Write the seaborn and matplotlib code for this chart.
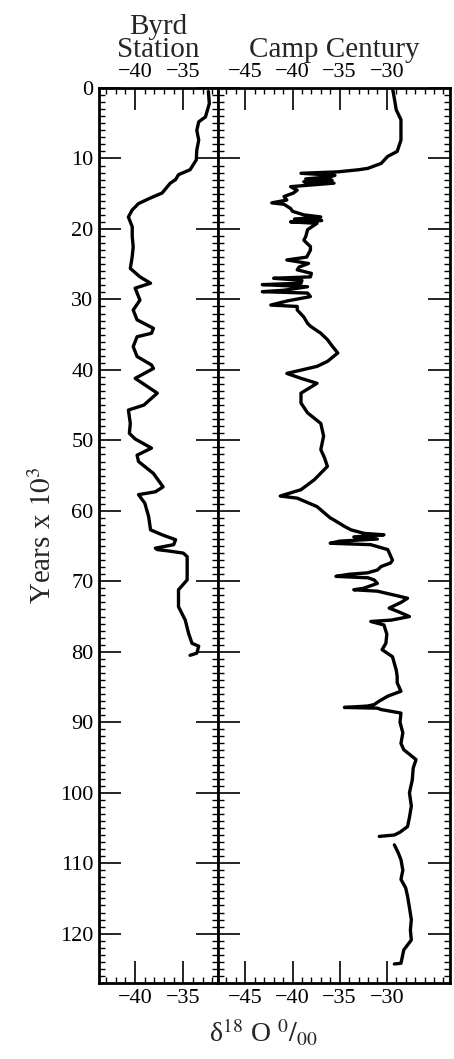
import pandas as pd
import seaborn as sns
import matplotlib.pyplot as plt
from matplotlib.ticker import MultipleLocator

# Byrd Station core: age (kyr) and delta-18O (per mil)
byrd_age = [0.5, 2.2, 4.1, 4.8, 6.0, 7.4, 8.8, 10.2, 11.6, 12.3, 13.0, 13.5, 14.9, 15.6,
            16.4, 17.3, 18.3, 19.7, 21.1, 22.5, 23.9, 25.6, 26.8, 27.7, 28.4, 30.1, 31.5,
            32.9, 34.1, 34.8, 35.3, 36.7, 38.1, 39.3, 39.8, 41.2, 43.3, 45.0, 45.7, 47.6,
            49.0, 49.8, 51.1, 52.1, 53.0, 54.7, 56.6, 57.3, 57.7, 58.9, 60.8, 62.7, 63.4,
            64.1, 64.8, 65.3, 65.5, 65.7, 66.0, 66.5, 69.8, 71.2, 73.6, 75.5, 77.4, 78.8,
            79.2, 80.2, 80.5]
byrd_d18o = [-32.4, -32.3, -32.7, -33.4, -33.6, -33.4, -33.6, -33.65, -34.3, -35.5, -35.8,
             -36.35, -37.2, -38.4, -39.65, -40.3, -40.7, -40.3, -40.3, -40.2, -40.3, -40.5,
             -39.5, -38.4, -40.0, -39.5, -40.2, -39.8, -38.1, -38.3, -39.8, -40.2, -39.8,
             -38.3, -38.1, -40.0, -37.7, -39.1, -40.7, -40.5, -40.6, -40.0, -38.3, -39.8,
             -39.65, -38.1, -37.1, -37.9, -39.65, -39.0, -38.6, -38.4, -37.2, -35.8, -36.0,
             -37.9, -37.7, -36.5, -35.0, -34.6, -34.6, -35.5, -35.5, -34.8, -34.45, -34.1,
             -33.4, -33.6, -34.3]

# Camp Century core, upper part (down to the break near 106 kyr)
camp_age = [0.0, 1.5, 3.1, 4.5, 6.0, 7.4, 9.0, 9.7, 10.7, 11.4, 11.6, 11.9, 12.1, 12.4,
            12.6, 12.9, 13.1, 13.3, 13.5, 14.0, 14.5, 14.9, 15.4, 15.9, 16.3, 16.5, 17.1,
            17.5, 18.0, 18.3, 18.6, 18.8, 19.0, 19.2, 20.1, 21.1, 21.6, 22.5, 23.0, 24.0,
            24.4, 24.9, 25.4, 25.8, 26.3, 26.8, 27.0, 27.3, 27.7, 27.9, 28.2, 28.7, 28.9,
            29.1, 29.6, 30.2, 30.8, 31.0, 31.5, 32.5, 33.4, 33.8, 34.8, 35.7, 36.6, 37.6,
            38.8, 39.5, 40.0, 40.5, 41.2, 41.9, 43.3, 44.7, 46.1, 47.6, 49.4, 51.3, 52.5,
            53.7, 55.6, 57.0, 57.9, 58.2, 59.4, 61.0, 61.3, 62.2, 62.7, 63.2, 63.4, 63.7,
            64.0, 64.3, 64.6, 64.8, 65.5, 67.0, 67.4, 67.9, 68.4, 68.8, 69.0, 69.3, 69.5,
            69.8, 70.3, 71.0, 71.2, 71.4, 72.4, 73.0, 73.8, 74.3, 75.0, 75.5, 75.7, 76.2,
            77.5, 78.8, 79.7, 80.7, 82.6, 83.5, 84.4, 85.6, 86.3, 87.0, 87.5, 87.7, 87.9,
            88.0, 88.2, 88.7, 90.0, 91.5, 93.0, 93.9, 95.3, 96.5, 98.2, 100.0, 101.9, 103.5,
            104.8, 105.6, 106.0, 106.2]
camp_d18o = [-29.4, -29.2, -29.0, -28.5, -28.5, -28.5, -28.9, -29.9, -30.6, -32.0, -33.0,
             -35.2, -39.1, -35.5, -36.0, -38.6, -35.8, -38.8, -35.6, -40.2, -39.5, -39.9,
             -40.9, -40.6, -42.2, -40.9, -40.2, -40.0, -38.8, -37.0, -39.8, -36.9, -40.2,
             -37.4, -38.4, -38.6, -38.8, -38.1, -38.1, -38.5, -40.6, -38.3, -39.3, -39.5,
             -38.0, -38.1, -42.0, -39.0, -39.1, -43.2, -38.4, -40.9, -43.2, -38.4, -38.1,
             -40.5, -42.3, -39.5, -39.5, -38.8, -38.4, -38.1, -37.0, -36.3, -35.8, -35.2,
             -36.3, -37.4, -39.0, -40.6, -39.1, -37.4, -39.1, -39.1, -38.4, -37.0, -36.7,
             -37.0, -36.6, -36.3, -37.7, -39.1, -41.3, -39.5, -37.4, -36.0, -35.6, -34.5,
             -33.8, -32.4, -30.3, -33.5, -31.0, -35.0, -36.0, -31.7, -29.9, -29.4, -29.6,
             -30.6, -31.0, -32.05, -34.0, -35.4, -32.0, -31.35, -31.0, -32.5, -33.5, -31.0,
             -27.8, -28.5, -29.75, -28.8, -27.6, -29.5, -31.7, -30.3, -30.0, -30.1, -30.5,
             -29.4, -29.0, -28.9, -28.9, -28.5, -29.9, -30.8, -31.35, -32.05, -34.5, -31.0,
             -30.6, -28.5, -28.6, -28.3, -28.5, -28.2, -26.9, -27.2, -27.3, -27.6, -27.4,
             -27.6, -27.8, -28.6, -29.2, -30.8]

# Camp Century, lower part after the break
camp_age_low = [107.4, 108.5, 109.5, 111.0, 112.3, 113.5, 114.7, 116.3, 118.0, 119.5,
                120.9, 122.3, 124.2, 124.3]
camp_d18o_low = [-29.2, -28.8, -28.5, -28.3, -28.5, -28.0, -27.8, -27.6, -27.4, -27.5,
                 -27.4, -28.2, -28.5, -29.2]

byrd_ticks = [-40, -35]
camp_ticks = [-45, -40, -35, -30]

sns.set_theme(style='ticks')
plt.rcParams['font.family'] = ['Liberation Serif', 'DejaVu Serif']
plt.rcParams['mathtext.fontset'] = 'stix'

fig = plt.figure(figsize=(4.54, 10.59), dpi=100)
ax1 = fig.add_axes([99 / 454, 76 / 1059, 119 / 454, 895 / 1059])
ax2 = fig.add_axes([218 / 454, 76 / 1059, 232 / 454, 895 / 1059], sharey=ax1)

sns.lineplot(x=byrd_d18o, y=byrd_age, sort=False, estimator=None,
             color='black', lw=2.4, ax=ax1)
sns.lineplot(x=camp_d18o, y=camp_age, sort=False, estimator=None,
             color='black', lw=2.4, ax=ax2)
sns.lineplot(x=camp_d18o_low, y=camp_age_low, sort=False, estimator=None,
             color='black', lw=2.4, ax=ax2)

ax1.set_xlim(-43.75, -31.4)
ax2.set_xlim(-47.9, -23.3)
ax1.set_ylim(127, 0)
ax1.set_xticks(byrd_ticks)
ax2.set_xticks(camp_ticks)

for ax in (ax1, ax2):
    ax.yaxis.set_major_locator(MultipleLocator(10))
    ax.yaxis.set_minor_locator(MultipleLocator(1))
    ax.xaxis.set_minor_locator(MultipleLocator(1))
    ax.tick_params(which='both', direction='in', top=True, bottom=True, left=True,
                   right=True, labeltop=True, labelbottom=True, labelsize=16,
                   width=1.2, color='black', labelcolor='black', pad=4)
    ax.tick_params(which='major', length=16)
    ax.tick_params(which='minor', length=4, width=1)
    for s in ax.spines.values():
        s.set_linewidth(2)
        s.set_color('black')
    ax.set_xlabel('')

ax2.tick_params(labelleft=False)
ax2.set_ylabel('')

ax1.set_ylabel('Years x $10^3$', fontsize=21, labelpad=2)
ax1.set_title('Byrd\nStation', fontsize=21, linespacing=0.85, pad=3)
ax2.set_title('Camp Century', fontsize=21, pad=3)
fig.text(0.58, 0.016, 'δ$^{18}$ O $^{0}/_{00}$', ha='center', fontsize=20)

plt.savefig('out.png', dpi=100)
plt.close()
